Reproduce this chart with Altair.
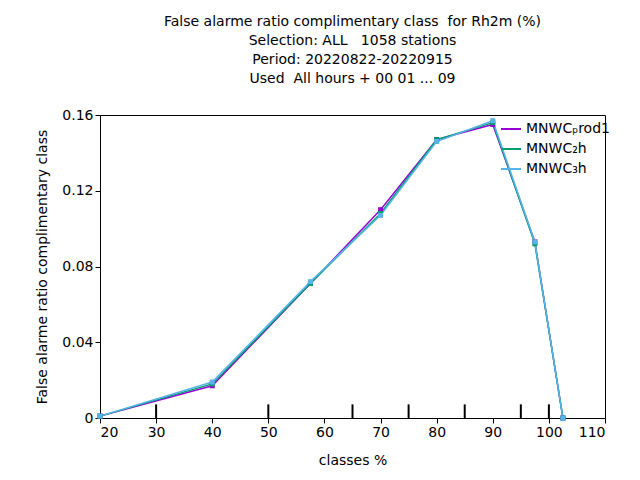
import pandas as pd
import altair as alt

classes = [20, 40, 57.5, 70, 80, 90, 97.5, 102.5]
prod1 = [0.001, 0.017, 0.071, 0.110, 0.147, 0.155, 0.093, 0.0]
nwc2h = [0.001, 0.018, 0.071, 0.108, 0.147, 0.156, 0.092, 0.0]
nwc3h = [0.001, 0.019, 0.072, 0.107, 0.146, 0.157, 0.093, 0.0]
series = ["MNWCₚrod1", "MNWC₂h", "MNWC₃h"]
colors = ["#9400d3", "#009e73", "#56b4e9"]
class_edges = [30, 50, 65, 75, 85, 95, 100]

rows = []
for name, vals in zip(series, [prod1, nwc2h, nwc3h]):
    for c, v in zip(classes, vals):
        rows.append({"cls": c, "far": v, "model": name})
df = pd.DataFrame(rows)
edges = pd.DataFrame({"cls": class_edges, "far": 0.0, "far2": 0.0072})

xscale = alt.Scale(domain=[20, 110], nice=False, zero=False)
yscale = alt.Scale(domain=[0, 0.16], nice=False)
x = alt.X("cls:Q", title="classes %", scale=xscale,
          axis=alt.Axis(values=list(range(20, 111, 10)), grid=False, tickSize=5,
                        labelOverlap=False, titlePadding=14))
y = alt.Y("far:Q", title="False alarme ratio complimentary class", scale=yscale,
          axis=alt.Axis(values=[round(i * 0.02, 2) for i in range(9)], grid=False, tickSize=5,
                        labelOverlap=False,
                        labelExpr="datum.value == 0 ? '0' : format(datum.value, '.2~f')",
                        titlePadding=12))

lines = alt.Chart(df).mark_line(point=alt.OverlayMarkDef(shape="square", size=25, filled=True),
                                 strokeWidth=1.5).encode(
    x=x, y=y,
    color=alt.Color("model:N", scale=alt.Scale(domain=series, range=colors),
                    legend=alt.Legend(title=None, orient="none", legendX=400, legendY=3,
                                      symbolType="stroke", symbolSize=400, symbolStrokeWidth=2,
                                      labelFontSize=14, rowPadding=2)),
)

ticks = alt.Chart(edges).mark_rule(color="black", strokeWidth=2).encode(
    x=alt.X("cls:Q", scale=xscale), y=alt.Y("far:Q", scale=yscale), y2="far2:Q")

nb = "\u00a0"
chart = alt.layer(ticks, lines).properties(
    width=505, height=303,
    autosize=alt.AutoSizeParams(type="none"),
    padding={"left": 92, "top": 107, "right": 20, "bottom": 50},
    title=alt.TitleParams(
        [f"False alarme ratio complimentary class {nb}for Rh2m (%)",
         f"Selection: ALL {nb} 1058 stations",
         "Period: 20220822-20220915",
         f"Used {nb}All hours + 00 01 ... 09"],
        anchor="middle", fontSize=14, fontWeight="normal", lineHeight=19, offset=22),
).configure(font="DejaVu Sans").configure_axis(
    labelFontSize=14, titleFontSize=14, titleFontWeight="normal",
    domainColor="black", tickColor="black", labelColor="black",
).configure_view(stroke="black", strokeWidth=1)

chart.save("out.html", embed_options={"renderer": "svg", "actions": False})
